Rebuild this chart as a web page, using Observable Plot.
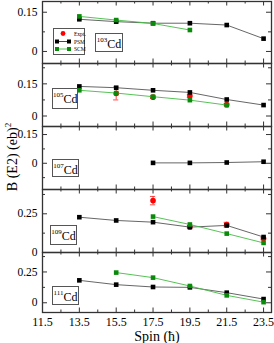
<!DOCTYPE html>
<html><head><meta charset="utf-8">
<script src="https://cdn.jsdelivr.net/npm/d3@7"></script>
<script src="https://cdn.jsdelivr.net/npm/@observablehq/plot@0.6"></script>
<style>
body{margin:0;background:#fff;}
#wrap{position:relative;width:274px;height:343px;font-family:"Liberation Serif",serif;color:#000;overflow:hidden;}
#wrap svg.plot{position:absolute;left:0;overflow:visible;}
.iso{position:absolute;border:1px solid #555;background:#fff;box-sizing:border-box;font-size:12px;line-height:1;text-align:center;padding-top:4px;}
.iso sup{font-size:7px;vertical-align:top;position:relative;top:-1px;}
#ylab{position:absolute;left:12px;top:157px;transform:translate(-50%,-50%) rotate(-90deg);white-space:nowrap;font-size:14px;line-height:1;}
#xlab{position:absolute;left:157px;top:337px;transform:translate(-50%,-50%);white-space:nowrap;font-size:14px;line-height:1;}
</style></head><body><div id="wrap"></div>
<script>
// ---- data ----
const spins = [13.5, 15.5, 17.5, 19.5, 21.5, 23.5];
const isotopes = ["103", "105", "107", "109", "111"];
const psm103 = [0.123, 0.114, 0.108, 0.108, 0.101, 0.049];
const scm103 = [0.134, 0.120, 0.107, 0.082, null, null];
const psm105 = [0.138, 0.132, 0.120, 0.110, 0.077, 0.051];
const scm105 = [0.120, 0.107, 0.090, 0.074, 0.051, null];
const psm107 = [null, null, 0.002, 0.002, 0.004, 0.008];
const scm107 = [null, null, null, null, null, null];
const psm109 = [0.228, 0.207, 0.196, 0.164, 0.175, 0.100];
const scm109 = [null, null, 0.232, 0.181, 0.122, 0.062];
const psm111 = [0.182, 0.147, 0.128, 0.125, 0.082, 0.030];
const scm111 = [null, 0.245, 0.204, 0.136, 0.060, 0.005];
const exp105 = [null, 0.105, 0.088, 0.093, 0.053, null];
const err105 = [null, 0.030, 0.006, 0.006, 0.005, null];
const exp109 = [null, null, 0.335, 0.165, 0.180, 0.090];
const err109 = [null, null, 0.027, 0.006, 0.015, 0.008];
const empty = [null, null, null, null, null, null];
const xMajorTicks = [11.5, 13.5, 15.5, 17.5, 19.5, 21.5, 23.5];
const xMinorTicks = [12.5, 14.5, 16.5, 18.5, 20.5, 22.5];
const yDomains = [[-0.046, 0.191], [-0.049, 0.245], [-0.137, 0.192], [0, 0.407], [-0.079, 0.408]];
const yMajorTicks = [[0, 0.15], [0, 0.15], [0, 0.15], [0, 0.25], [0, 0.25]];
const yMinorStep = [0.075, 0.075, 0.075, 0.125, 0.125];
const psmAll = [psm103, psm105, psm107, psm109, psm111];
const scmAll = [scm103, scm105, scm107, scm109, scm111];
const expAll = [empty, exp105, empty, exp109, empty];
const errAll = [empty, err105, empty, err109, empty];

// ---- layout ----
const W = 274, ML = 42, MR = 3;
const panelTops = [1, 63, 126, 189, 252, 312];
const labelBoxes = [[95, 33, 28, 19], [52, 88, 26, 21], [52, 159, 27, 18], [50, 225, 27, 20], [52, 286, 27, 19]];

const wrap = document.getElementById("wrap");
const rows = a => spins.map((s, i) => ({spin: s, v: a[i]})).filter(d => d.v != null);
const erows = (a, e) => spins.map((s, i) => ({spin: s, v: a[i], e: e[i]})).filter(d => d.v != null);

for (let p = 0; p < 5; p++) {
  const top = panelTops[p], h = panelTops[p + 1] - top;
  const last = p === 4;
  const mb = last ? 31 : 0;
  const [y0, y1] = yDomains[p];
  const st = yMinorStep[p];
  const allY = d3.range(Math.ceil(y0 / st - 1e-9), Math.floor(y1 / st + 1e-9) + 1).map(k => +(k * st).toFixed(4));
  const majors = yMajorTicks[p];
  const minors = allY.filter(v => !majors.includes(v));
  const iw = W - ML - MR;
  const tc = "#333";
  const psm = rows(psmAll[p]), scm = rows(scmAll[p]), ex = erows(expAll[p], errAll[p]);
  const marks = [
    Plot.tickX(xMajorTicks, {insetBottom: h - 4.5, stroke: tc}),
    Plot.tickX(xMajorTicks, {insetTop: h - 4.5, stroke: tc}),
    Plot.tickX(xMinorTicks, {insetBottom: h - 2.5, stroke: tc}),
    Plot.tickX(xMinorTicks, {insetTop: h - 2.5, stroke: tc}),
    Plot.tickY(majors, {insetRight: iw - 5, stroke: tc}),
    Plot.tickY(majors, {insetLeft: iw - 5, stroke: tc}),
    Plot.tickY(minors, {insetRight: iw - 3, stroke: tc}),
    Plot.tickY(minors, {insetLeft: iw - 3, stroke: tc}),
    Plot.axisY(majors, {tickSize: 0, tickPadding: 5, tickFormat: d => String(d), fontSize: 11.5, label: null}),
    Plot.ruleX(ex, {x: "spin", y1: d => d.v - d.e, y2: d => d.v + d.e, stroke: "#ff2020", strokeWidth: 0.8}),
    Plot.ruleY(ex, {x1: d => d.spin - 0.14, x2: d => d.spin + 0.14, y: d => d.v - d.e, stroke: "#ff2020", strokeWidth: 0.8}),
    Plot.ruleY(ex, {x1: d => d.spin - 0.14, x2: d => d.spin + 0.14, y: d => d.v + d.e, stroke: "#ff2020", strokeWidth: 0.8}),
    Plot.dot(ex, {x: "spin", y: "v", r: 2.8, fill: "#ff0000"}),
    Plot.line(psm, {x: "spin", y: "v", stroke: "#555", strokeWidth: 0.9}),
    Plot.dot(psm, {x: "spin", y: "v", symbol: "square", r: 2.6, fill: "#000"}),
    Plot.line(scm, {x: "spin", y: "v", stroke: "#44bb44", strokeWidth: 0.9}),
    Plot.dot(scm, {x: "spin", y: "v", symbol: "square", r: 2.6, fill: "#0a8a0a"}),
    Plot.frame({stroke: "#333", strokeWidth: 1.3})
  ];
  if (last) {
    marks.push(Plot.axisX(xMajorTicks, {anchor: "bottom", tickSize: 0, tickPadding: 5, tickFormat: d => d.toFixed(1), fontSize: 12, label: null}));
  }
  const svg = Plot.plot({
    width: W, height: h + mb,
    marginLeft: ML, marginRight: MR, marginTop: 0, marginBottom: mb,
    x: {domain: [11.5, 23.93], axis: null},
    y: {domain: [y0, y1], axis: null},
    style: {fontFamily: "Liberation Serif", fontSize: "11.5px", color: "#000", background: "transparent", overflow: "visible"},
    marks
  });
  svg.classList.add("plot");
  svg.style.top = top + "px";
  wrap.appendChild(svg);
}

// isotope labels
isotopes.forEach((iso, p) => {
  const [l, t, w, hh] = labelBoxes[p];
  const d = document.createElement("div");
  d.className = "iso";
  d.style.left = l + "px"; d.style.top = t + "px"; d.style.width = w + "px"; d.style.height = hh + "px";
  d.innerHTML = `<sup>${iso}</sup>Cd`;
  wrap.appendChild(d);
});

// legend
const leg = document.createElement("div");
leg.style.cssText = "position:absolute;left:53px;top:28px;";
leg.innerHTML = `<svg width="32" height="27" style="overflow:visible">
<rect x="0.5" y="0.5" width="31" height="26" fill="#fff" stroke="#555"/>
<circle cx="10" cy="5.5" r="2.4" fill="#ff0000"/>
<text x="21" y="7.5" font-size="5.5" font-family="Liberation Serif">Expt.</text>
<line x1="4" y1="13.5" x2="16" y2="13.5" stroke="#333" stroke-width="0.9"/>
<rect x="2" y="11.5" width="4" height="4" fill="#000"/><rect x="14" y="11.5" width="4" height="4" fill="#000"/>
<text x="21" y="15.5" font-size="5.5" font-family="Liberation Serif">PSM</text>
<line x1="4" y1="21" x2="16" y2="21" stroke="#44bb44" stroke-width="0.9"/>
<rect x="2" y="19" width="4" height="4" fill="#0a8a0a"/><rect x="14" y="19" width="4" height="4" fill="#0a8a0a"/>
<text x="21" y="23" font-size="5.5" font-family="Liberation Serif">SCM</text>
</svg>`;
wrap.appendChild(leg);

const yl = document.createElement("div");
yl.id = "ylab"; yl.innerHTML = "B (E2) (eb)<sup style='font-size:9px'>2</sup>";
wrap.appendChild(yl);
const xl = document.createElement("div");
xl.id = "xlab"; xl.textContent = "Spin (ħ)";
wrap.appendChild(xl);
</script></body></html>
